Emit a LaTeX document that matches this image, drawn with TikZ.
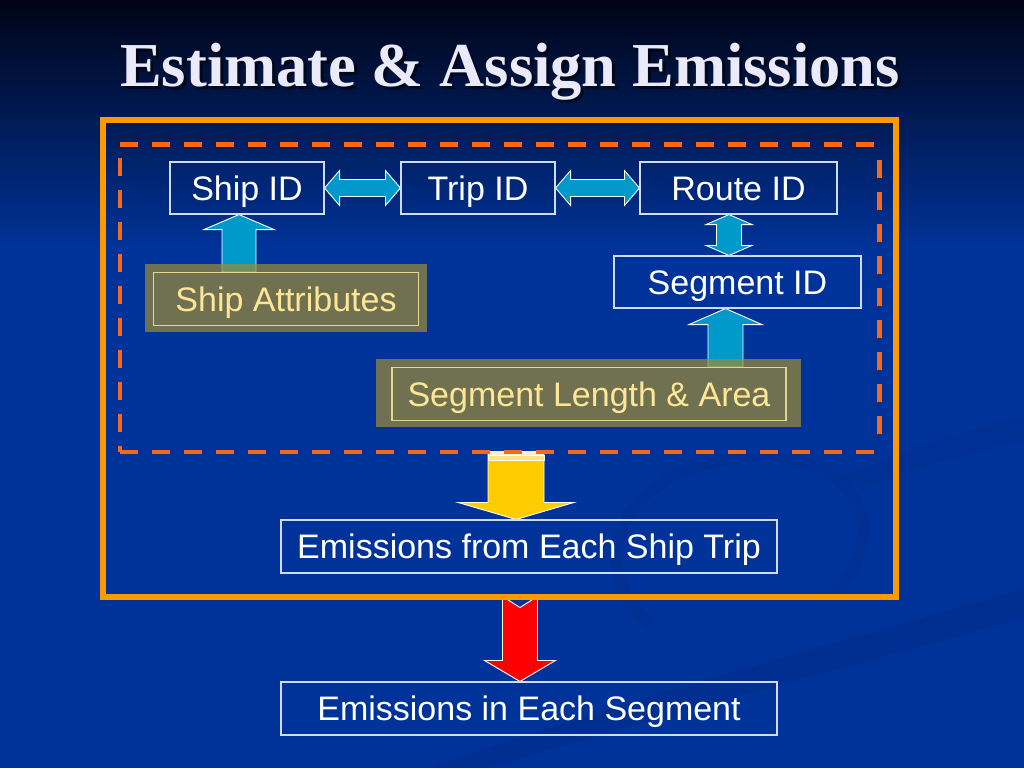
\documentclass[tikz,border=0pt]{standalone}
\usepackage{fontspec}
\setmainfont{Liberation Serif}
\newfontfamily\arialf{Liberation Sans}
\usetikzlibrary{calc}
\definecolor{bgblue}{RGB}{0,51,153}
\definecolor{bgtop}{RGB}{0,4,22}
\definecolor{frameorange}{RGB}{255,153,0}
\definecolor{dashorange}{RGB}{245,105,30}
\definecolor{boxline}{RGB}{205,220,255}
\definecolor{olivebase}{RGB}{160,140,50}
\definecolor{olivetext}{RGB}{255,230,150}
\definecolor{olivebox}{RGB}{225,215,140}
\definecolor{arrowcyan}{RGB}{0,153,204}
\definecolor{arrowyellow}{RGB}{255,204,0}
\definecolor{paleyellow}{RGB}{255,228,120}
\definecolor{paletop}{RGB}{240,240,215}
\definecolor{arrowred}{RGB}{255,0,0}
\definecolor{titlecol}{RGB}{234,234,250}
\definecolor{swirl}{RGB}{0,25,95}
\pgfdeclarelayer{background}
\pgfdeclarelayer{arrowlayer}
\pgfsetlayers{background,arrowlayer,main}
\begin{document}
\begin{tikzpicture}[x=1pt,y=-1pt,
  txt/.style={font=\arialf\fontsize{34}{40}\selectfont, inner sep=0pt, text height=24.4pt, text depth=0pt},
  idbox/.style={txt, draw=boxline, line width=1.1pt, text=white, minimum height=52pt},
  oliveback/.style={fill=olivebase, fill opacity=0.7, inner sep=0pt, minimum height=68pt},
  olivein/.style={txt, draw=olivebox, line width=1.1pt, text=olivetext, minimum height=53pt},
  cyanarrow/.style={fill=arrowcyan, draw=white, line width=0.9pt, line join=miter},
  yelarrow/.style={fill=arrowyellow, draw=white, line width=0.9pt, line join=miter},
  redarrow/.style={fill=arrowred, draw=white, line width=0.9pt, line join=miter},
  titlestyle/.style={anchor=base, inner sep=0pt, font=\bfseries\fontsize{62.5}{70}\selectfont}
]
\useasboundingbox (0,0) rectangle (1024,768);

% background
\begin{pgfonlayer}{background}
  \fill[bgblue] (0,0) rectangle (1024,768);
  \shade[top color=bgtop, bottom color=bgblue] (0,0) rectangle (1024,250);
  \fill[swirl, opacity=0.12] (430,768) .. controls (650,690) and (850,640) .. (1024,588)
     -- (1024,618) .. controls (850,668) and (650,718) .. (490,768) -- cycle;
  \fill[swirl, opacity=0.1] (840,478) .. controls (910,445) and (975,428) .. (1024,416)
     -- (1024,440) .. controls (975,452) and (915,468) .. (860,488) -- cycle;
  \draw[swirl, opacity=0.09, line width=12pt] (650,625) .. controls (585,565) and (615,475) .. (735,458)
     .. controls (845,445) and (905,520) .. (830,600);
\end{pgfonlayer}

% title
\node[titlestyle, text=black, opacity=0.55] (titleshadow) at (513,89) {Estimate \& Assign Emissions};
\node[titlestyle, text=titlecol] (title) at (510,86) {Estimate \& Assign Emissions};

% id boxes
\node[idbox, minimum width=154pt] (shipid) at (247,188) {Ship ID};
\node[idbox, minimum width=154pt] (tripid) at (478,188) {Trip ID};
\node[idbox, minimum width=197pt] (routeid) at (738.5,188) {Route ID};
\node[idbox, minimum width=247pt] (segid) at (737.5,282) {Segment ID};

% olive boxes
\node[oliveback, minimum width=282pt] (attrbg) at (286,298) {};
\node[olivein, minimum width=265pt] (attr) at (286,299) {Ship Attributes};
\node[oliveback, minimum width=425pt] (seglenbg) at (588,393) {};
\node[olivein, minimum width=394pt] (seglen) at (589,394) {Segment Length \& Area};

% result boxes
\node[idbox, minimum width=496pt, minimum height=53pt] (emtrip) at (529,546.5) {Emissions from Each Ship Trip};
\node[idbox, minimum width=496pt, minimum height=53pt] (emseg) at (529,708.5) {Emissions in Each Segment};

% arrows
\begin{pgfonlayer}{arrowlayer}
  % Ship <-> Trip
  \draw[cyanarrow] (shipid.east) -- ++(15,-17.5) -- ++(0,9) -- ($(tripid.west)+(-15,-8.5)$) -- ++(0,-9)
     -- (tripid.west) -- ++(-15,17.5) -- ++(0,-9) -- ($(shipid.east)+(15,8.5)$) -- ++(0,9) -- cycle;
  % Trip <-> Route
  \draw[cyanarrow] (tripid.east) -- ++(15,-17.5) -- ++(0,9) -- ($(routeid.west)+(-15,-8.5)$) -- ++(0,-9)
     -- (routeid.west) -- ++(-15,17.5) -- ++(0,-9) -- ($(tripid.east)+(15,8.5)$) -- ++(0,9) -- cycle;
  % Route <-> Segment
  \coordinate (rs1) at ($(routeid.south)+(-9.5,0)$);
  \coordinate (rs2) at (rs1 |- segid.north);
  \draw[cyanarrow] (rs1) -- ++(23,10) -- ++(-10.5,0) -- ($(rs2)+(12.5,-10)$) -- ++(10.5,0) -- (rs2)
     -- ++(-23,-10) -- ++(10.5,0) -- ($(rs1)+(-12.5,10)$) -- ++(-10.5,0) -- cycle;
  % Ship Attributes -> Ship ID
  \coordinate (sa1) at ($(shipid.south)+(-8,0)$);
  \coordinate (sa2) at (sa1 |- attr.north);
  \draw[cyanarrow] (sa1) -- ++(35,15) -- ++(-18,0) -- ($(sa2)+(17,0)$) -- ++(-34,0)
     -- ($(sa1)+(-17,15)$) -- ++(-18,0) -- cycle;
  % Segment Length -> Segment ID
  \coordinate (sl1) at ($(segid.south)+(-12,0)$);
  \coordinate (sl2) at (sl1 |- seglen.north);
  \draw[cyanarrow] (sl1) -- ++(36.5,16) -- ++(-19,0) -- ($(sl2)+(17.5,0)$) -- ++(-35,0)
     -- ($(sl1)+(-17.5,16)$) -- ++(-19,0) -- cycle;
  % yellow arrow
  \coordinate (ya1) at ($(emtrip.north)+(-13,0)$);
  \draw[yelarrow] (ya1) -- ++(-58,-17) -- ++(30,0) -- ++(0,-51) -- ++(56,0) -- ++(0,51) -- ++(30,0) -- cycle;
  \fill[paletop] ($(ya1)+(-28,-68)$) rectangle ($(ya1)+(28,-64)$);
  \draw[white, fill=paleyellow, line width=0.9pt] ($(ya1)+(-28,-64)$) rectangle ($(ya1)+(28,-59)$);
  % red arrow
  \coordinate (ra1) at ($(emseg.north)+(-9,0)$);
  \draw[redarrow] (ra1) -- ++(-35.5,-21) -- ++(18,0) -- ++(0,-64) -- ++(17.5,11) -- ++(17.5,-11)
     -- ++(0,64) -- ++(18,0) -- cycle;
\end{pgfonlayer}

% frames
\draw[frameorange, line width=6pt] (103,120) rectangle (896,597);
\draw[dashorange, line width=4.5pt, dash pattern=on 18pt off 14pt] (120,144.5) -- (879.5,144.5);
\draw[dashorange, line width=4.5pt, dash pattern=on 18pt off 14pt] (120,158) -- (120,452);
\draw[dashorange, line width=4.5pt, dash pattern=on 18pt off 14pt] (120,452) -- (882,452);
\draw[dashorange, line width=4.5pt, dash pattern=on 18pt off 14pt] (879.5,160) -- (879.5,440);
\end{tikzpicture}
\end{document}
